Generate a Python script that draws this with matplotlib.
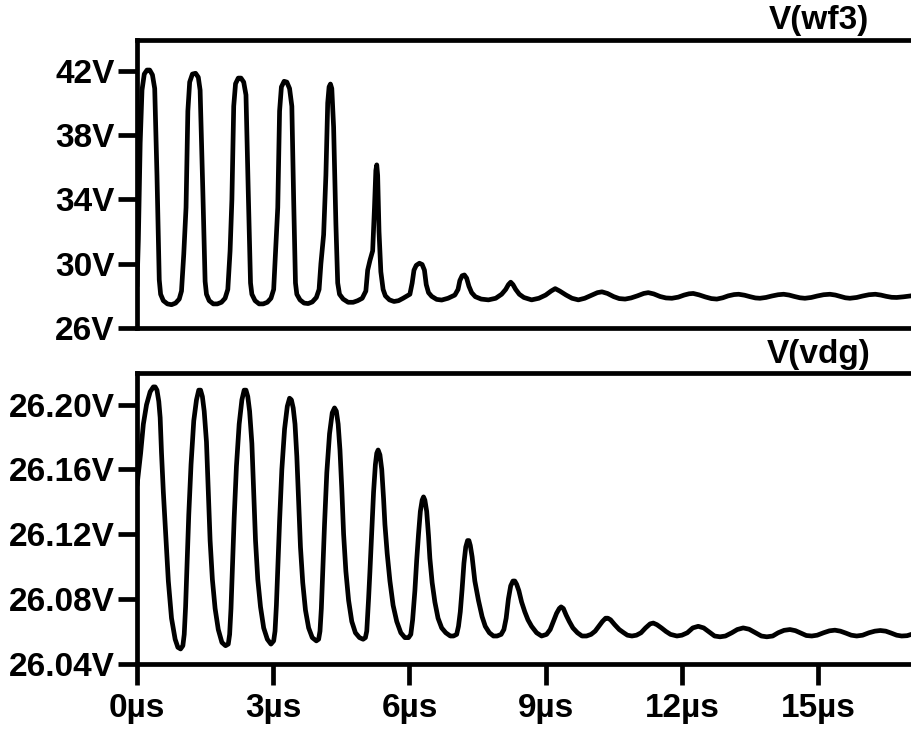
import matplotlib
matplotlib.use("Agg")
import matplotlib.pyplot as plt

plt.rcParams['font.family'] = ['Liberation Sans', 'DejaVu Sans']
plt.rcParams['font.weight'] = 'bold'

# ---- V(wf3): time (µs) and voltage (V) ----
t_wf3 = [0.00, 0.03, 0.07, 0.11, 0.16, 0.22, 0.28, 0.34, 0.39, 0.44, 0.49, 0.52, 0.58, 0.67, 0.76, 0.85, 0.93, 0.98,
         1.03, 1.08, 1.12, 1.16, 1.22, 1.29, 1.35, 1.39, 1.45, 1.50, 1.53, 1.59, 1.68, 1.77, 1.86, 1.94, 2.00,
         2.05, 2.09, 2.13, 2.17, 2.23, 2.29, 2.35, 2.40, 2.45, 2.50, 2.53, 2.60, 2.69, 2.78, 2.87, 2.95, 3.01,
         3.05, 3.10, 3.14, 3.18, 3.24, 3.30, 3.36, 3.41, 3.45, 3.49, 3.52, 3.59, 3.68, 3.77, 3.86, 3.95, 4.01,
         4.05, 4.11, 4.16, 4.20, 4.23, 4.26, 4.29, 4.33, 4.38, 4.42, 4.46, 4.54, 4.65, 4.76, 4.86, 4.96, 5.04,
         5.08, 5.13, 5.19, 5.23, 5.26, 5.28, 5.30, 5.33, 5.37, 5.42, 5.47, 5.56, 5.66, 5.76, 5.86, 5.95, 6.01,
         6.06, 6.10, 6.15, 6.22, 6.28, 6.33, 6.37, 6.42, 6.49, 6.60, 6.71, 6.85, 7.00,
         7.07, 7.11, 7.16, 7.21, 7.26, 7.31, 7.37, 7.45, 7.58, 7.74, 7.90, 8.03,
         8.12, 8.18, 8.23, 8.28, 8.34, 8.42, 8.52, 8.69, 8.85, 9.00,
         9.12, 9.21, 9.31, 9.45, 9.58, 9.72, 9.86, 10.02,
         10.14, 10.24, 10.36, 10.50, 10.62, 10.75, 10.88, 11.02,
         11.16, 11.26, 11.38, 11.52, 11.65, 11.78, 11.92, 12.05,
         12.16, 12.25, 12.38, 12.52, 12.65, 12.77, 12.90, 13.02,
         13.15, 13.25, 13.38, 13.50, 13.62, 13.72, 13.85, 13.98,
         14.12, 14.24, 14.36, 14.48, 14.60, 14.71, 14.85, 14.98,
         15.12, 15.26, 15.38, 15.50, 15.60, 15.70, 15.85, 15.98,
         16.12, 16.26, 16.38, 16.50, 16.62, 16.73, 16.88, 17.05, 17.20]
v_wf3 = [28.6, 31.5, 37.5, 40.8, 41.8, 42.05, 42.05, 41.75, 40.9, 35.5, 29.0, 28.1, 27.7, 27.5, 27.45, 27.55, 27.8, 28.3,
         30.6, 33.5, 39.5, 41.3, 41.8, 41.85, 41.6, 40.8, 34.5, 28.9, 28.1, 27.7, 27.5, 27.5, 27.6, 27.85, 28.4,
         30.8, 34.0, 39.8, 41.2, 41.55, 41.55, 41.3, 40.5, 34.5, 28.8, 28.1, 27.7, 27.5, 27.5, 27.6, 27.85, 28.4,
         30.7, 33.5, 39.5, 41.0, 41.35, 41.3, 40.9, 39.8, 34.0, 28.8, 28.1, 27.75, 27.55, 27.52, 27.62, 27.9, 28.4,
         30.0, 31.8, 35.5, 40.0, 41.0, 41.18, 40.9, 38.5, 32.5, 28.8, 28.1, 27.8, 27.6, 27.6, 27.7, 27.85, 28.3,
         29.6, 30.2, 30.8, 33.5, 35.8, 36.15, 35.5, 32.0, 29.5, 28.4, 28.0, 27.75, 27.65, 27.7, 27.85, 28.0, 28.1,
         28.8, 29.6, 29.9, 30.03, 29.95, 29.6, 28.7, 28.2, 27.97, 27.78, 27.74, 27.85, 28.05,
         28.4, 28.95, 29.25, 29.3, 29.1, 28.6, 28.2, 27.95, 27.8, 27.75, 27.85, 28.1,
         28.4, 28.7, 28.85, 28.7, 28.4, 28.1, 27.9, 27.75, 27.85, 28.05,
         28.3, 28.45, 28.3, 28.05, 27.85, 27.75, 27.85, 28.05,
         28.2, 28.25, 28.15, 27.95, 27.83, 27.8, 27.87, 28.0,
         28.15, 28.2, 28.12, 27.96, 27.87, 27.85, 27.92, 28.05,
         28.13, 28.15, 28.06, 27.93, 27.83, 27.8, 27.88, 28.0,
         28.08, 28.1, 28.04, 27.95, 27.87, 27.85, 27.9, 27.99,
         28.07, 28.1, 28.05, 27.96, 27.88, 27.85, 27.9, 27.99,
         28.07, 28.1, 28.05, 27.96, 27.88, 27.85, 27.9, 27.99,
         28.07, 28.1, 28.05, 27.97, 27.91, 27.9, 27.94, 28.0, 28.06]

# ---- V(vdg): time (µs) and voltage (V) ----
t_vdg = [0.00, 0.04, 0.08, 0.14, 0.21, 0.29, 0.36, 0.40, 0.44, 0.48, 0.51, 0.54, 0.58, 0.62, 0.66, 0.69, 0.76, 0.84, 0.90, 0.96,
         1.01, 1.04, 1.07, 1.10, 1.14, 1.19, 1.25, 1.31, 1.36, 1.40, 1.44, 1.48, 1.53, 1.57, 1.61, 1.66, 1.72, 1.79, 1.87, 1.95,
         2.01, 2.04, 2.07, 2.10, 2.14, 2.19, 2.25, 2.31, 2.36, 2.40, 2.44, 2.48, 2.53, 2.57, 2.61, 2.66, 2.72, 2.79, 2.87, 2.95,
         3.01, 3.04, 3.07, 3.10, 3.14, 3.19, 3.25, 3.31, 3.36, 3.40, 3.44, 3.48, 3.52, 3.56, 3.60, 3.65, 3.71, 3.78, 3.86, 3.95,
         4.00, 4.03, 4.06, 4.09, 4.13, 4.18, 4.24, 4.30, 4.35, 4.39, 4.43, 4.47, 4.51, 4.55, 4.60, 4.66, 4.73, 4.81, 4.90, 4.98,
         5.03, 5.06, 5.10, 5.13, 5.17, 5.21, 5.25, 5.28, 5.31, 5.35, 5.39, 5.43, 5.46, 5.51, 5.57, 5.64, 5.72, 5.81, 5.90, 5.98,
         6.03, 6.07, 6.12, 6.16, 6.20, 6.24, 6.28, 6.31, 6.34, 6.38, 6.42, 6.45, 6.50, 6.56, 6.63, 6.71, 6.80, 6.90, 6.97,
         7.04, 7.08, 7.12, 7.16, 7.20, 7.24, 7.28, 7.31, 7.34, 7.38, 7.44, 7.52, 7.60, 7.67, 7.76, 7.85, 7.93,
         8.02, 8.08, 8.13, 8.18, 8.23, 8.28, 8.32, 8.36, 8.41, 8.47, 8.54, 8.61, 8.69, 8.80, 8.91,
         9.02, 9.10, 9.17, 9.24, 9.30, 9.34, 9.39, 9.45, 9.52, 9.60, 9.70, 9.80, 9.90,
         10.00, 10.09, 10.17, 10.25, 10.32, 10.37, 10.43, 10.52, 10.62, 10.72, 10.80, 10.90,
         11.00, 11.10, 11.20, 11.30, 11.37, 11.45, 11.55, 11.65, 11.75, 11.89,
         12.00, 12.12, 12.24, 12.36, 12.48, 12.60, 12.72, 12.84, 12.96, 13.10, 13.22, 13.35, 13.48, 13.62, 13.75, 13.87,
         14.00, 14.12, 14.25, 14.38, 14.50, 14.62, 14.74, 14.86, 14.98, 15.12, 15.25, 15.37, 15.49, 15.61, 15.73, 15.85,
         15.98, 16.12, 16.25, 16.37, 16.49, 16.61, 16.73, 16.84, 16.96, 17.05, 17.20]
v_vdg = [26.150, 26.160, 26.170, 26.188, 26.200, 26.208, 26.211, 26.211, 26.209, 26.202, 26.192, 26.170, 26.146, 26.126, 26.106, 26.091, 26.068, 26.055, 26.050, 26.049,
         26.051, 26.058, 26.075, 26.100, 26.132, 26.163, 26.190, 26.203, 26.209, 26.209, 26.205, 26.196, 26.177, 26.146, 26.116, 26.092, 26.074, 26.061, 26.053, 26.051,
         26.052, 26.058, 26.074, 26.098, 26.130, 26.162, 26.188, 26.203, 26.209, 26.209, 26.205, 26.196, 26.176, 26.146, 26.116, 26.092, 26.075, 26.062, 26.055, 26.052,
         26.054, 26.060, 26.076, 26.098, 26.128, 26.160, 26.185, 26.199, 26.204, 26.203, 26.198, 26.188, 26.168, 26.140, 26.112, 26.090, 26.073, 26.062, 26.056, 26.054,
         26.055, 26.060, 26.074, 26.096, 26.126, 26.158, 26.182, 26.195, 26.198, 26.196, 26.188, 26.172, 26.148, 26.120, 26.097, 26.079, 26.066, 26.059, 26.056, 26.055,
         26.056, 26.060, 26.080, 26.097, 26.122, 26.146, 26.163, 26.170, 26.172, 26.169, 26.160, 26.142, 26.126, 26.108, 26.091, 26.076, 26.066, 26.059, 26.056, 26.056,
         26.058, 26.067, 26.085, 26.104, 26.120, 26.134, 26.141, 26.143, 26.141, 26.134, 26.119, 26.105, 26.090, 26.078, 26.068, 26.062, 26.059, 26.057, 26.057,
         26.058, 26.063, 26.072, 26.086, 26.102, 26.112, 26.116, 26.116, 26.113, 26.106, 26.091, 26.079, 26.069, 26.063, 26.059, 26.057, 26.057,
         26.058, 26.061, 26.068, 26.080, 26.088, 26.091, 26.091, 26.089, 26.085, 26.078, 26.072, 26.067, 26.063, 26.059, 26.057,
         26.058, 26.061, 26.066, 26.071, 26.074, 26.075, 26.074, 26.070, 26.066, 26.062, 26.059, 26.057, 26.057,
         26.058, 26.060, 26.063, 26.066, 26.068, 26.068, 26.067, 26.064, 26.061, 26.059, 26.0575, 26.057,
         26.0575, 26.059, 26.062, 26.0645, 26.065, 26.064, 26.062, 26.0598, 26.058, 26.057,
         26.0575, 26.059, 26.062, 26.063, 26.062, 26.0595, 26.057, 26.0565, 26.057, 26.059, 26.061, 26.062, 26.0612, 26.059, 26.057, 26.0565,
         26.057, 26.059, 26.0605, 26.061, 26.0603, 26.0588, 26.0573, 26.057, 26.0575, 26.059, 26.0602, 26.0606, 26.060, 26.0588, 26.0575, 26.057,
         26.0575, 26.059, 26.060, 26.0604, 26.060, 26.0588, 26.0575, 26.057, 26.0572, 26.058, 26.059]

# ---- axis ticks and labels ----
wf3_ticks = [26, 30, 34, 38, 42]
wf3_labels = ["26V", "30V", "34V", "38V", "42V"]
vdg_ticks = [26.04, 26.08, 26.12, 26.16, 26.20]
vdg_labels = ["26.04V", "26.08V", "26.12V", "26.16V", "26.20V"]
time_ticks = [0, 3, 6, 9, 12, 15]
time_labels = ["0µs", "3µs", "6µs", "9µs", "12µs", "15µs"]
trace_names = ["V(wf3)", "V(vdg)"]

W, H = 911, 731
fig = plt.figure(figsize=(W / 100, H / 100), dpi=100)
fig.patch.set_facecolor("white")

x0, x1 = 137, 918          # plot area spans past the right edge of the canvas
ax_top = fig.add_axes([x0 / W, 1 - 328 / H, (x1 - x0) / W, (328 - 40) / H])
ax_bot = fig.add_axes([x0 / W, 1 - 663.5 / H, (x1 - x0) / W, (663.5 - 373) / H])

LW = 3.4
FS = 24
for ax in (ax_top, ax_bot):
    ax.set_xlim(0, 17.2)
    for s in ax.spines.values():
        s.set_linewidth(LW)
        s.set_color("black")
    ax.tick_params(axis="y", direction="out", length=14, width=LW, pad=2,
                   labelsize=FS, colors="black")

ax_top.plot(t_wf3, v_wf3, color="black", lw=LW, solid_joinstyle="round", solid_capstyle="round")
ax_top.set_ylim(26, 43.92)
ax_top.set_yticks(wf3_ticks)
ax_top.set_yticklabels(wf3_labels, fontsize=FS, fontweight="bold")
ax_top.set_xticks([])

ax_bot.plot(t_vdg, v_vdg, color="black", lw=LW, solid_joinstyle="round", solid_capstyle="round")
ax_bot.set_ylim(26.04, 26.2196)
ax_bot.set_yticks(vdg_ticks)
ax_bot.set_yticklabels(vdg_labels, fontsize=FS, fontweight="bold")
ax_bot.set_xticks(time_ticks)
ax_bot.set_xticklabels(time_labels, fontsize=FS, fontweight="bold")
ax_bot.tick_params(axis="x", direction="out", length=15, width=LW, pad=6, colors="black")

fig.text(819 / W, 1 - 29 / H, trace_names[0], ha="center", va="baseline",
         fontsize=FS, fontweight="bold")
fig.text(819 / W, 1 - 363 / H, trace_names[1], ha="center", va="baseline",
         fontsize=FS, fontweight="bold")

fig.savefig("out.png", dpi=100, facecolor="white")
